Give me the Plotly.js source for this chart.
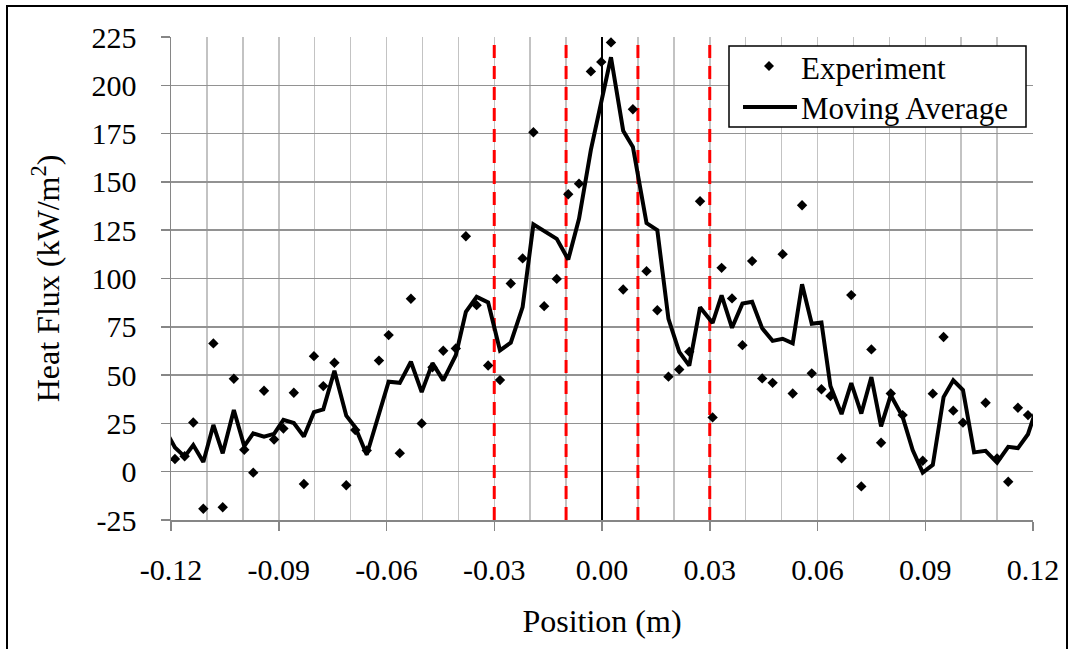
<!DOCTYPE html>
<html>
<head>
<meta charset="utf-8">
<script src="https://cdn.plot.ly/plotly-3.0.1.min.js"></script>
<style>
  html, body { margin: 0; padding: 0; background: #ffffff; }
  #chart { width: 1075px; height: 649px; }
</style>
</head>
<body>
<div id="chart"></div>
<script>
// ---- Data ----
const positions = [
  -0.1189, -0.1162, -0.1138, -0.1110, -0.1082, -0.1056, -0.1025, -0.0996, -0.0971, -0.0941,
  -0.0913, -0.0887, -0.0858, -0.0830, -0.0802, -0.0776, -0.0745, -0.0712, -0.0687, -0.0655,
  -0.0621, -0.0594, -0.0563, -0.0532, -0.0502, -0.0472, -0.0442, -0.0407, -0.0379, -0.0349,
  -0.0317, -0.0284, -0.0254, -0.0221, -0.0191, -0.0161, -0.0126, -0.0094, -0.0064, -0.0031,
  -0.0002, 0.0025, 0.0059, 0.0086, 0.0124, 0.0154, 0.0185, 0.0215, 0.0243, 0.0273,
  0.0308, 0.0333, 0.0362, 0.0391, 0.0418, 0.0446, 0.0475, 0.0503, 0.0531, 0.0557,
  0.0584, 0.0611, 0.0636, 0.0667, 0.0694, 0.0722, 0.0750, 0.0777, 0.0804, 0.0837,
  0.0865, 0.0893, 0.0921, 0.0951, 0.0978, 0.1005, 0.1036, 0.1068, 0.1100, 0.1131,
  0.1158, 0.1186
];
const experimentFlux = [
  6.6, 8.0, 25.5, -19.2, 66.4, -18.4, 48.1, 11.4, -0.5, 41.9,
  16.7, 22.3, 40.9, -6.4, 59.8, 44.3, 56.4, -7.0, 21.6, 11.0,
  57.5, 70.7, 9.6, 89.5, 25.0, 54.0, 62.6, 63.8, 121.9, 86.2,
  55.0, 47.4, 97.4, 110.4, 175.7, 85.7, 99.8, 143.6, 149.1, 207.2,
  212.1, 222.2, 94.3, 187.6, 103.8, 83.6, 49.2, 52.9, 62.1, 140.0,
  28.1, 105.5, 89.7, 65.5, 109.0, 48.3, 46.0, 112.6, 40.5, 137.9,
  50.9, 42.7, 39.2, 7.0, 91.4, -7.6, 63.3, 15.0, 40.5, 29.3,
  -36.0, 5.7, 40.4, 69.7, 31.6, 25.4, -28.4, 35.7, 6.8, -5.2,
  33.1, 29.3
];
const avgPositions = [
  -0.1217, -0.1189, -0.1162, -0.1138, -0.1110, -0.1082, -0.1056, -0.1025, -0.0996, -0.0971,
  -0.0941, -0.0913, -0.0887, -0.0858, -0.0830, -0.0802, -0.0776, -0.0745, -0.0712, -0.0687,
  -0.0655, -0.0621, -0.0594, -0.0563, -0.0532, -0.0502, -0.0472, -0.0442, -0.0407, -0.0379,
  -0.0349, -0.0317, -0.0284, -0.0254, -0.0221, -0.0191, -0.0161, -0.0126, -0.0094, -0.0064,
  -0.0031, -0.0002, 0.0025, 0.0059, 0.0086, 0.0124, 0.0154, 0.0185, 0.0215, 0.0243,
  0.0273, 0.0308, 0.0333, 0.0362, 0.0391, 0.0418, 0.0446, 0.0475, 0.0503, 0.0531,
  0.0557, 0.0584, 0.0611, 0.0636, 0.0667, 0.0694, 0.0722, 0.0750, 0.0777, 0.0804,
  0.0837, 0.0865, 0.0893, 0.0921, 0.0951, 0.0978, 0.1005, 0.1036, 0.1068, 0.1100,
  0.1131, 0.1158, 0.1186, 0.1214
];
const movingAverage = [
  22.0, 12.5, 7.8, 13.8, 5.0, 24.2, 9.5, 31.9, 13.2, 19.8,
  18.1, 19.6, 26.8, 25.2, 18.2, 30.8, 32.3, 52.2, 29.0, 23.0,
  8.8, 30.2, 46.6, 46.0, 56.9, 41.2, 56.2, 47.3, 60.3, 82.8,
  90.5, 87.6, 62.8, 66.8, 85.2, 128.0, 124.5, 120.5, 109.8, 130.9,
  166.6, 191.0, 214.5, 176.5, 168.1, 128.7, 125.0, 79.1, 62.0, 54.9,
  85.1, 77.0, 91.3, 74.5, 87.0, 88.0, 74.2, 67.7, 68.8, 66.4,
  97.0, 76.6, 77.2, 44.4, 29.8, 45.8, 30.1, 49.0, 23.5, 39.6,
  28.4, 11.2, -0.5, 3.5, 38.6, 47.3, 42.3, 10.0, 10.8, 4.7,
  12.9, 12.2, 19.4, 35.0
];
const redMarkerPositions = [-0.03, -0.01, 0.01, 0.03];
const centerPosition = [0];
const yRange = [-25, 225];
const xRange = [-0.12, 0.12];
const xTickVals = [-0.12, -0.09, -0.06, -0.03, 0, 0.03, 0.06, 0.09, 0.12];
const xTickText = ["-0.12", "-0.09", "-0.06", "-0.03", "0.00", "0.03", "0.06", "0.09", "0.12"];
const yTickVals = [-25, 0, 25, 50, 75, 100, 125, 150, 175, 200, 225];
const yTickText = ["-25", "0", "25", "50", "75", "100", "125", "150", "175", "200", "225"];
const legendLabels = ["Experiment", "Moving Average"];

// ---- Layout helpers (pixel -> paper for the drawn legend/frame) ----
const W = 1075, H = 649;
const M = { l: 171, r: 42, t: 37, b: 129 };
const PW = W - M.l - M.r, PH = H - M.t - M.b;
const px = v => (v - M.l) / PW;
const py = v => (H - M.b - v) / PH;

const FONT = "Liberation Serif";

// vertical reference lines built as line traces (below the data)
function verticals(list) {
  const xs = [], ys = [];
  list.forEach(p => { xs.push(p, p, null); ys.push(yRange[0], yRange[1], null); });
  return { xs, ys };
}
const red = verticals(redMarkerPositions);
const ctr = verticals(centerPosition);

const traces = [
  {
    x: red.xs, y: red.ys, type: "scatter", mode: "lines",
    line: { color: "#ff0000", width: 3, dash: "13px,8px" },
    showlegend: false, hoverinfo: "skip", connectgaps: false
  },
  {
    x: ctr.xs, y: ctr.ys, type: "scatter", mode: "lines",
    line: { color: "#000000", width: 2 },
    showlegend: false, hoverinfo: "skip", connectgaps: false
  },
  {
    x: positions, y: experimentFlux, type: "scatter", mode: "markers",
    marker: { symbol: "diamond", size: 8, color: "#000000" },
    showlegend: false, cliponaxis: true
  },
  {
    x: avgPositions, y: movingAverage, type: "scatter", mode: "lines",
    line: { color: "#000000", width: 4 },
    showlegend: false, cliponaxis: true
  }
];

const shapes = [];
// outer chart frame
shapes.push({
  type: "rect", xref: "paper", yref: "paper",
  x0: px(7), x1: px(1067), y0: py(700), y1: py(6),
  line: { color: "#000000", width: 2 }, fillcolor: "rgba(0,0,0,0)", layer: "above"
});
// legend box
shapes.push({
  type: "rect", xref: "paper", yref: "paper",
  x0: px(729), x1: px(1026), y0: py(127), y1: py(46),
  line: { color: "#000000", width: 1.5 }, fillcolor: "#ffffff", layer: "above"
});
// legend diamond
const dcx = 769, dcy = 66, dr = 5;
shapes.push({
  type: "path", xref: "paper", yref: "paper",
  path: `M${px(dcx)},${py(dcy - dr)} L${px(dcx + dr)},${py(dcy)} L${px(dcx)},${py(dcy + dr)} L${px(dcx - dr)},${py(dcy)} Z`,
  line: { color: "#000000", width: 0 }, fillcolor: "#000000", layer: "above"
});
// legend line
shapes.push({
  type: "line", xref: "paper", yref: "paper",
  x0: px(743), x1: px(797), y0: py(107), y1: py(107),
  line: { color: "#000000", width: 4 }, layer: "above"
});

const annotations = [
  { text: legendLabels[0], xref: "paper", yref: "paper", x: px(799), y: py(68),
    xanchor: "left", yanchor: "middle", showarrow: false,
    font: { family: FONT, size: 31, color: "#000000" } },
  { text: legendLabels[1], xref: "paper", yref: "paper", x: px(799), y: py(109),
    xanchor: "left", yanchor: "middle", showarrow: false,
    font: { family: FONT, size: 31, color: "#000000" } }
];

const layout = {
  width: W, height: H,
  margin: M,
  paper_bgcolor: "#ffffff", plot_bgcolor: "#ffffff",
  font: { family: FONT, size: 30, color: "#000000" },
  showlegend: false,
  xaxis: {
    range: xRange,
    tickmode: "array", tickvals: xTickVals, ticktext: xTickText,
    ticks: "outside", ticklen: 9, tickwidth: 1.5, tickcolor: "#868686",
    ticklabelstandoff: 13,
    showline: true, linecolor: "#868686", linewidth: 1.5,
    showgrid: true, gridcolor: "#c3c3c3", gridwidth: 1.5,
    minor: { tickmode: "linear", tick0: -0.12, dtick: 0.01, showgrid: true, gridcolor: "#c3c3c3", gridwidth: 1.5, ticks: "" },
    zeroline: false,
    tickfont: { family: FONT, size: 30, color: "#000000" },
    title: { text: "Position (m)", font: { family: FONT, size: 32, color: "#000000" }, standoff: 25 },
    fixedrange: true
  },
  yaxis: {
    range: yRange,
    tickmode: "array", tickvals: yTickVals, ticktext: yTickText,
    ticks: "outside", ticklen: 9, tickwidth: 1.5, tickcolor: "#868686",
    ticklabelstandoff: 18,
    showline: true, linecolor: "#868686", linewidth: 1.5,
    showgrid: true, gridcolor: "#929292", gridwidth: 1.5,
    zeroline: false,
    tickfont: { family: FONT, size: 30, color: "#000000" },
    title: { text: "Heat Flux (kW/m<sup>2</sup>)", font: { family: FONT, size: 32, color: "#000000" }, standoff: 22 },
    fixedrange: true
  },
  shapes: shapes,
  annotations: annotations
};

Plotly.newPlot("chart", traces, layout, { staticPlot: true, displayModeBar: false });
</script>
</body>
</html>
